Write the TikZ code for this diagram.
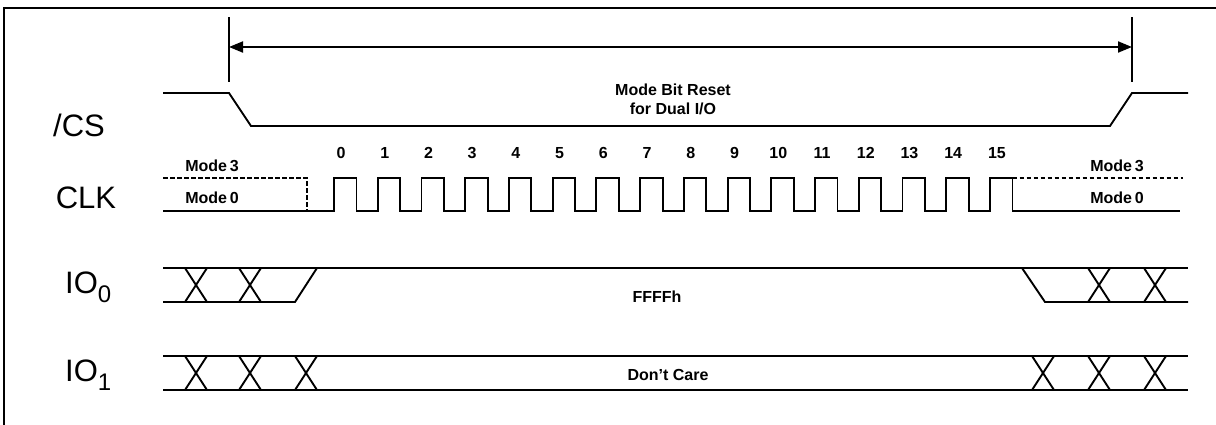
\documentclass[tikz,border=0pt]{standalone}
\usepackage{fontspec}
\setmainfont{Liberation Sans}
\usetikzlibrary{arrows.meta}
\tikzset{
  sig/.style={line width=1.9pt, line join=miter},
  dsig/.style={line width=1.6pt, dash pattern=on 4.5pt off 2.5pt},
  biglbl/.style={font=\fontsize{31}{31}\selectfont, inner sep=0pt},
  smlbl/.style={font=\fontsize{16}{16}\selectfont\bfseries, inner sep=0pt},
  numlbl/.style={font=\fontsize{16}{16}\selectfont\bfseries, inner sep=0pt},
  frameline/.style={line width=2.2pt},
}
\begin{document}
\begin{tikzpicture}[x=1pt,y=-1pt]
\useasboundingbox (0,0) rectangle (1216,424);
% frame
\draw[frameline] (4,440) -- (4,8) -- (1230,8);
% marker lines and arrow
\coordinate (mL) at (229,47);
\coordinate (mR) at (1132,47);
\draw[sig] (229,17) -- (229,82);
\draw[sig] (1132,17) -- (1132,82);
\draw[line width=1.9pt, {Triangle[length=14pt,width=11pt]}-{Triangle[length=14pt,width=11pt]}] (mL) -- (mR);
\node[smlbl, align=center] (mbr) at (673,99) {Mode Bit Reset\\[3pt]for Dual I/O};
% labels
\node[biglbl] (cs) at (79,125) {/CS};
\node[biglbl] (clk) at (86,198) {CLK};
\node[biglbl, anchor=west] (io0) at (65,287) {IO\raisebox{-9pt}{\fontsize{24}{24}\selectfont 0}};
\node[biglbl, anchor=west] (io1) at (65,375) {IO\raisebox{-9pt}{\fontsize{24}{24}\selectfont 1}};
% /CS
\draw[sig] (163,93) -- (229,93) -- (251,126) -- (1110,126) -- (1132,93) -- (1188,93);
% CLK
\draw[dsig] (163,178) -- (307,178) -- (307,211);
\draw[dsig] (1012.5,178) -- (1183,178);
\draw[sig] (163,211) -- (307,211)
  \foreach \k in {0,...,15} { -- ({334+43.73*\k},211) -- ({334+43.73*\k},178) -- ({356.5+43.73*\k},178) -- ({356.5+43.73*\k},211) }
  -- (1180,211);
\foreach \k in {0,...,15} {
  \node[numlbl] (n\k) at ({341+43.73*\k},153) {\k};
}
\node[smlbl] (m3l) at (212,166) {Mode\,3};
\node[smlbl] (m0l) at (212,198) {Mode\,0};
\node[smlbl] (m3r) at (1117,166) {Mode\,3};
\node[smlbl] (m0r) at (1117,198) {Mode\,0};
% IO0
\draw[sig] (163,268) -- (1188,268);
\draw[sig] (163,302) -- (295,302) -- (317,268);
\draw[sig] (1022,268) -- (1045,302) -- (1188,302);
\foreach \c in {196,250,1099,1155} {
  \draw[sig] (\c-11,268) -- (\c+11,302);
  \draw[sig] (\c-11,302) -- (\c+11,268);
}
\node[smlbl] (ffff) at (657,297) {FFFFh};
% IO1
\draw[sig] (163,356) -- (1188,356);
\draw[sig] (163,390) -- (1188,390);
\foreach \c in {196,250,306,1043,1099,1155} {
  \draw[sig] (\c-11,356) -- (\c+11,390);
  \draw[sig] (\c-11,390) -- (\c+11,356);
}
\node[smlbl] (dc) at (668,375) {Don’t Care};
\end{tikzpicture}
\end{document}
